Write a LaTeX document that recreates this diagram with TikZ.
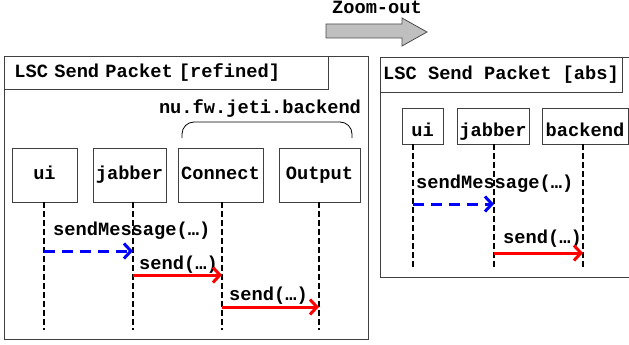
\documentclass[tikz,border=0pt]{standalone}
\usepackage{fontspec}
\setmonofont{Liberation Mono}
\usetikzlibrary{positioning,arrows.meta}
\newcommand\lscfont{\ttfamily\bfseries\fontsize{18.7}{20}\selectfont}
\tikzset{
    every node/.style={font=\lscfont, inner sep=0pt},
    frame/.style={draw=black!75, line width=0.9pt},
    lifebox/.style={frame, text height=12pt, text depth=3pt},
    lifeline/.style={draw=black, line width=2pt, dash pattern=on 6pt off 3pt},
    async/.style={draw=blue, line width=3pt, dash pattern=on 11pt off 7pt,
        -{Straight Barb[length=7pt,width=15pt]}},
    call/.style={draw=red, line width=3pt, -{Straight Barb[length=7pt,width=15pt]}},
    msglabel/.style={anchor=base west}
}

\begin{document}
\begin{tikzpicture}[x=1pt,y=-1pt]
\useasboundingbox (0,0) rectangle (629,345);
\clip (0,0) rectangle (629,345);

% zoom-out arrow
\draw[draw=black!70, fill=black!25, line width=0.8pt]
    (326,24) -- (402,24) -- (402,18) -- (427,32) -- (402,46) -- (402,38) -- (326,38) -- cycle;
\node[anchor=base] (zoomlabel) at (377,14) {Zoom-out};

% refined chart
\draw[frame] (4,56) rectangle (368,339);
\node[frame, anchor=north west, minimum width=324pt, minimum height=33pt,
    text width=304pt, align=left, text height=12pt, text depth=3pt] (ltitle) at (4,56)
    {LSC Send Packet [refined]};

\node[anchor=base] (pkglabel) at (260,113) {nu.fw.jeti.backend};
\draw[line width=0.8pt, rounded corners=12pt] (182,138) -- (182,122) -- (352,122) -- (352,138);

\node[lifebox, minimum width=65pt, minimum height=54pt] (ui) at (44.5,175) {ui};
\node[lifebox, minimum width=73pt, minimum height=54pt] (jabber) at (129.5,175) {jabber};
\node[lifebox, minimum width=85pt, minimum height=54pt] (connect) at (220.5,175) {Connect};
\node[lifebox, minimum width=81pt, minimum height=54pt] (output) at (319.5,175) {Output};

\coordinate (uiend) at (44,330);
\coordinate (jabberend) at (133,330);
\coordinate (connectend) at (222,330);
\coordinate (outputend) at (319,330);
\foreach \ll in {ui,jabber,connect,output}
    \draw[lifeline] (\ll end |- \ll.south) -- (\ll end);

\coordinate (m1) at (0,251);
\coordinate (m2) at (0,275);
\coordinate (m3) at (0,307);
\node[msglabel] (lsendmsg) at (53,235) {sendMessage(…)};
\draw[async] (uiend |- m1) -- (jabberend |- m1);
\node[msglabel] (lsend1) at (139,269) {send(…)};
\draw[call] (jabberend |- m2) -- (connectend |- m2);
\node[msglabel] (lsend2) at (229,300) {send(…)};
\draw[call] (connectend |- m3) -- (outputend |- m3);

% abstract chart
\draw[frame] (380,57) rectangle (640,277);
\node[frame, minimum width=242pt, minimum height=35pt, text height=12pt, text depth=3pt]
    (rtitle) at (501,74.5) {LSC Send Packet [abs]};

\node[lifebox, minimum width=41pt, minimum height=36pt, text height=20pt, text depth=0pt] (rui) at (422.5,126) {ui};
\node[lifebox, minimum width=72pt, minimum height=36pt, text height=20pt, text depth=0pt] (rjabber) at (493,126) {jabber};
\node[lifebox, minimum width=86pt, minimum height=36pt, text height=20pt, text depth=0pt] (rbackend) at (585,126) {backend};

\coordinate (ruiend) at (413,269);
\coordinate (rjabberend) at (494,269);
\coordinate (rbackendend) at (583,269);
\foreach \ll in {rui,rjabber,rbackend}
    \draw[lifeline] (\ll end |- \ll.south) -- (\ll end);

\coordinate (r1) at (0,204);
\coordinate (r2) at (0,253);
\node[msglabel] (rsendmsg) at (416,188) {sendMessage(…)};
\draw[async] (ruiend |- r1) -- (rjabberend |- r1);
\node[msglabel] (rsend) at (503,243) {send(…)};
\draw[call] (rjabberend |- r2) -- (rbackendend |- r2);
\end{tikzpicture}
\end{document}
